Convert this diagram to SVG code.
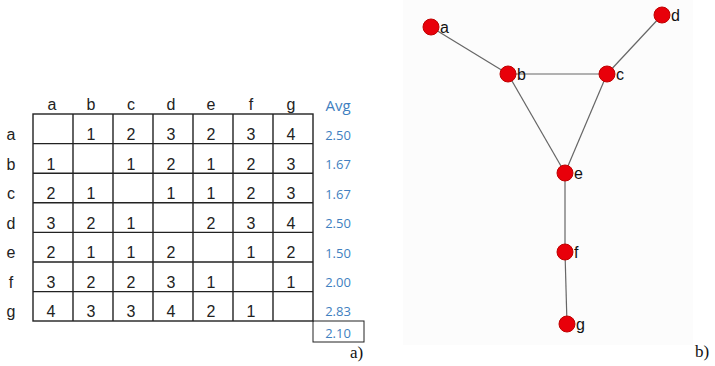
<svg xmlns="http://www.w3.org/2000/svg" width="715" height="366" viewBox="0 0 715 366">
<style>
.t{font-family:"Liberation Sans",Arial,sans-serif;font-size:16px;fill:#222;text-anchor:middle}
.v{font-family:"Open Sans","Liberation Sans",sans-serif;font-size:13px;fill:#3f7fc0;text-anchor:middle}
.g{stroke:#222;stroke-width:1.4;fill:none}
.e{stroke:#666;stroke-width:1.2}
.n{fill:#e8000a;stroke:#c00000;stroke-width:1}
.nl{font-family:"Liberation Sans",Arial,sans-serif;font-size:16px;fill:#111}
.cap{font-family:"Liberation Serif","Times New Roman",serif;font-size:17px;fill:#111}
</style>
<rect width="715" height="366" fill="#fff"/>
<rect x="403" y="0" width="290" height="345" fill="#fcfcfc"/>
<g id="table">
<g class="g">
<rect x="33" y="114" width="280" height="207"/>
<line x1="73" y1="114" x2="73" y2="321"/><line x1="113" y1="114" x2="113" y2="321"/><line x1="153" y1="114" x2="153" y2="321"/><line x1="193" y1="114" x2="193" y2="321"/><line x1="233" y1="114" x2="233" y2="321"/><line x1="273" y1="114" x2="273" y2="321"/>
<line x1="33" y1="143.6" x2="313" y2="143.6"/><line x1="33" y1="173.2" x2="313" y2="173.2"/><line x1="33" y1="202.8" x2="313" y2="202.8"/><line x1="33" y1="232.4" x2="313" y2="232.4"/><line x1="33" y1="262" x2="313" y2="262"/><line x1="33" y1="291.6" x2="313" y2="291.6"/>
<rect x="313" y="321" width="51" height="21" stroke-width="1"/>
</g>
<g class="t">
<text x="52" y="110">a</text><text x="91" y="110">b</text><text x="131" y="110">c</text><text x="171" y="110">d</text><text x="211" y="110">e</text><text x="251" y="110">f</text><text x="291" y="110">g</text>
<text x="11" y="140">a</text><text x="11" y="170">b</text><text x="11" y="199">c</text><text x="11" y="229">d</text><text x="11" y="258">e</text><text x="11" y="288">f</text><text x="11" y="317">g</text>
<text x="91" y="140">1</text><text x="131" y="140">2</text><text x="171" y="140">3</text><text x="211" y="140">2</text><text x="251" y="140">3</text><text x="291" y="140">4</text>
<text x="51" y="170">1</text><text x="131" y="170">1</text><text x="171" y="170">2</text><text x="211" y="170">1</text><text x="251" y="170">2</text><text x="291" y="170">3</text>
<text x="51" y="199">2</text><text x="91" y="199">1</text><text x="171" y="199">1</text><text x="211" y="199">1</text><text x="251" y="199">2</text><text x="291" y="199">3</text>
<text x="51" y="229">3</text><text x="91" y="229">2</text><text x="131" y="229">1</text><text x="211" y="229">2</text><text x="251" y="229">3</text><text x="291" y="229">4</text>
<text x="51" y="258">2</text><text x="91" y="258">1</text><text x="131" y="258">1</text><text x="171" y="258">2</text><text x="251" y="258">1</text><text x="291" y="258">2</text>
<text x="51" y="288">3</text><text x="91" y="288">2</text><text x="131" y="288">2</text><text x="171" y="288">3</text><text x="211" y="288">1</text><text x="291" y="288">1</text>
<text x="51" y="317">4</text><text x="91" y="317">3</text><text x="131" y="317">3</text><text x="171" y="317">4</text><text x="211" y="317">2</text><text x="251" y="317">1</text>
</g>
<g class="v">
<text x="338" y="111" style="font-size:15px">Avg</text>
<text x="338" y="140">2.50</text><text x="338" y="169">1.67</text><text x="338" y="199">1.67</text><text x="338" y="228">2.50</text><text x="338" y="258">1.50</text><text x="338" y="287">2.00</text><text x="338" y="316">2.83</text><text x="338" y="338">2.10</text>
</g>
</g>
<g id="connectors">
<line class="e" x1="431" y1="27" x2="508" y2="74"/>
<line class="e" x1="508" y1="74" x2="607" y2="74"/>
<line class="e" x1="607" y1="74" x2="662" y2="15"/>
<line class="e" x1="508" y1="74" x2="565" y2="173"/>
<line class="e" x1="607" y1="74" x2="565" y2="173"/>
<line class="e" x1="565" y1="173" x2="565" y2="252"/>
<line class="e" x1="565" y1="252" x2="567" y2="324"/>
</g>
<g id="node-a"><circle class="n" cx="431" cy="27" r="8"/><text class="nl" x="440" y="33">a</text></g>
<g id="node-b"><circle class="n" cx="508" cy="74" r="8"/><text class="nl" x="517" y="80">b</text></g>
<g id="node-c"><circle class="n" cx="607" cy="74" r="8"/><text class="nl" x="616" y="80">c</text></g>
<g id="node-d"><circle class="n" cx="662" cy="15" r="8"/><text class="nl" x="671" y="21">d</text></g>
<g id="node-e"><circle class="n" cx="565" cy="173" r="8"/><text class="nl" x="574" y="179">e</text></g>
<g id="node-f"><circle class="n" cx="565" cy="252" r="8"/><text class="nl" x="574" y="258">f</text></g>
<g id="node-g"><circle class="n" cx="567" cy="324" r="8"/><text class="nl" x="576" y="330">g</text></g>
<text class="cap" x="350" y="358">a)</text>
<text class="cap" x="695" y="357">b)</text>
</svg>
